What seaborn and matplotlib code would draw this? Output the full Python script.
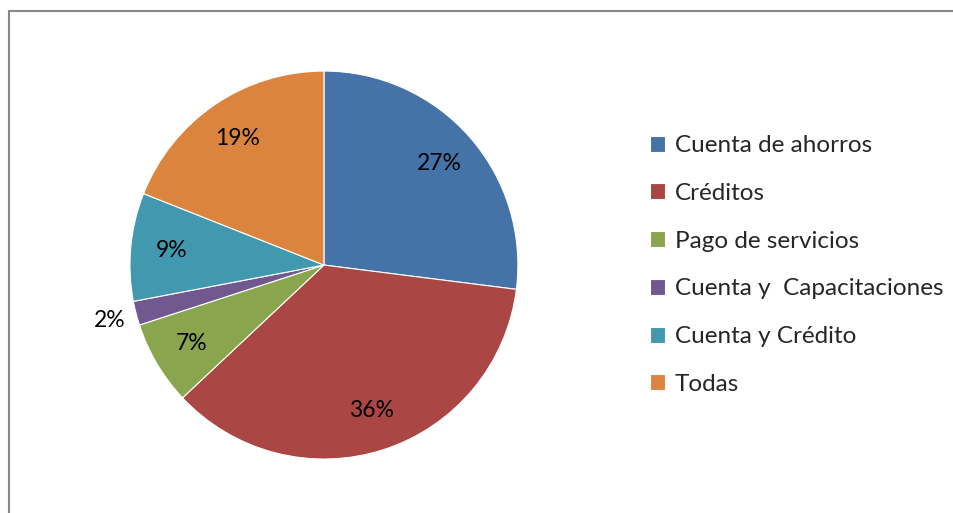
import matplotlib.pyplot as plt
import matplotlib.lines as mlines
import seaborn as sns
import numpy as np

# datos del grafico
categorias = ["Cuenta de ahorros", "Créditos", "Pago de servicios",
              "Cuenta y  Capacitaciones", "Cuenta y Crédito", "Todas"]
porcentajes = [27, 36, 7, 2, 9, 19]
colores = ["#4572A7", "#AA4643", "#89A54E", "#71588F", "#4198AF", "#DB843D"]

sns.set_style("white")
plt.rcParams['font.family'] = ['Lato', 'DejaVu Sans']

fig = plt.figure(figsize=(9.54, 5.13), dpi=100)
ax = fig.add_axes([0.1362, 0.1052, 0.4067, 0.7563])

wedges, textos, autotextos = ax.pie(
    porcentajes, colors=colores, startangle=90, counterclock=False,
    autopct='%1.0f%%', pctdistance=0.79,
    wedgeprops={'linewidth': 0.8, 'edgecolor': 'white'},
    textprops={'fontsize': 16.5, 'color': 'black'})
ax.set_xlim(-1, 1)
ax.set_ylim(-1, 1)
ax.set_aspect('equal')

# la etiqueta del 2% va fuera del sector
for w, t, v in zip(wedges, autotextos, porcentajes):
    if v < 5:
        ang = np.deg2rad((w.theta1 + w.theta2) / 2)
        t.set_position((1.14 * np.cos(ang), 1.14 * np.sin(ang)))

ax.legend(wedges, categorias, loc='center left',
          bbox_to_anchor=(650 / 954, 1 - 265 / 513), bbox_transform=fig.transFigure,
          frameon=False, fontsize=17.5, handlelength=0.63, handleheight=0.63,
          handletextpad=0.4, labelspacing=1.1, borderpad=0, borderaxespad=0)

# marco del area del grafico (solo borde superior e izquierdo visibles)
x0, y0 = 9.5 / 954, 1 - 10.5 / 513
for xs, ys in [([x0, 1.0], [y0, y0]), ([x0, x0], [y0, 0.0])]:
    fig.add_artist(mlines.Line2D(xs, ys, transform=fig.transFigure,
                                 color='#878787', linewidth=1.5))

fig.savefig('out.png', dpi=100)
